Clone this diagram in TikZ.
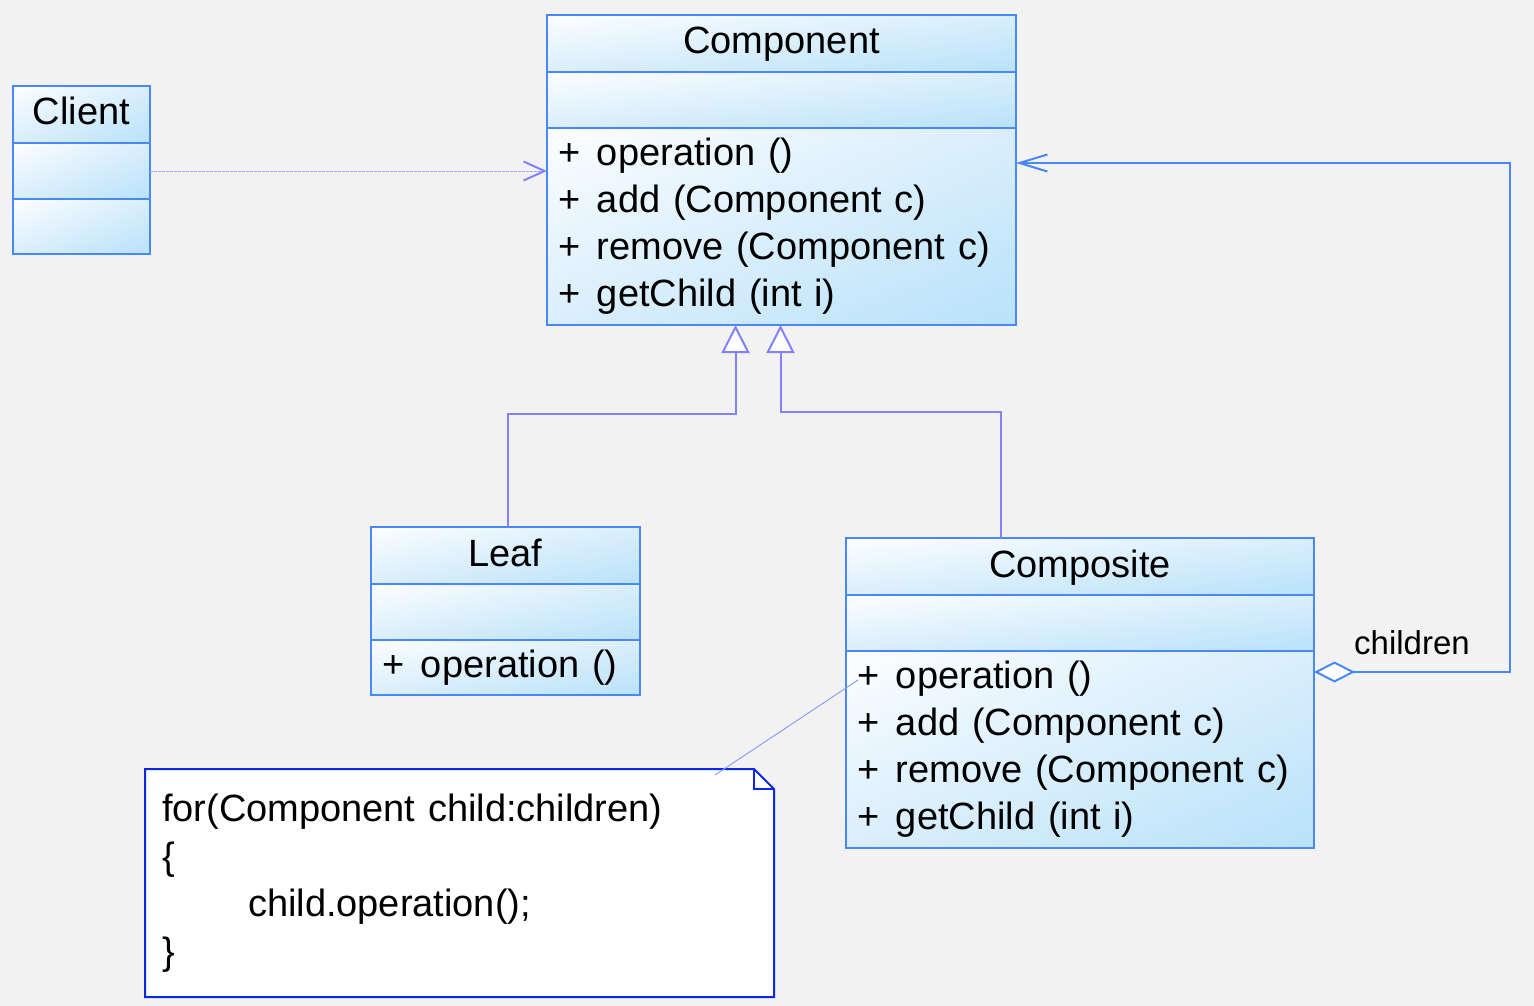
\documentclass[tikz,border=0pt]{standalone}
\usepackage{fontspec}
\setmainfont{Liberation Sans}
\usetikzlibrary{positioning,arrows.meta,shadings}
\definecolor{bggray}{RGB}{242,242,242}
\definecolor{classline}{RGB}{72,136,248}
\definecolor{classlight}{RGB}{252,254,255}
\definecolor{classmid}{RGB}{218,238,252}
\definecolor{classdark}{RGB}{184,226,250}
\definecolor{genline}{RGB}{130,130,255}
\definecolor{depline}{RGB}{160,160,255}
\definecolor{noteline}{RGB}{10,40,230}
\definecolor{linkline}{RGB}{140,160,255}

\pgfdeclarelayer{back}
\pgfsetlayers{back,main}

\newcommand{\op}[1]{\makebox[39pt][l]{+}#1}

\tikzset{
    compart/.style={rectangle, draw=classline, line width=2pt, outer sep=0pt,
        inner xsep=11pt, inner ysep=0pt, upper left=classlight, upper right=classmid,
        lower left=classmid, lower right=classdark, font=\fontsize{38}{47}\selectfont},
    classhead/.style={compart, anchor=north west, minimum width=#1, minimum height=57pt,
        text height=28pt, text depth=7pt},
    classops/.style={compart, text width=#1, align=left},
    notebox/.style={anchor=north west, outer sep=0pt, inner xsep=17pt, inner ysep=0pt,
        text width=595pt, minimum height=228pt, align=left, font=\fontsize{38}{47.5}\selectfont},
    noteshape/.style={draw=noteline, line width=2pt, fill=white},
    rolelabel/.style={inner sep=0pt, font=\fontsize{33}{40}\selectfont},
    dep/.style={draw=depline, line width=1pt, dash pattern=on 3pt off 1pt,
        -{Straight Barb[length=21pt,width=19pt,line width=2pt,color=genline]}},
    gen/.style={draw=genline, line width=2pt, -{Triangle[length=28pt,width=28pt,fill=white]}},
    aggr/.style={draw=classline, line width=2pt,
        {Diamond[length=41pt,width=21pt,fill=white]}-{Straight Barb[length=28pt,width=17pt]}},
    notelink/.style={draw=linkline, line width=1pt}
}

\begin{document}
\begin{tikzpicture}[x=1pt,y=-1pt]
    \useasboundingbox (0,0) rectangle (1534,1006);
    \begin{pgfonlayer}{back}
        \fill[bggray] (0,0) rectangle (1534,1006);
    \end{pgfonlayer}

    % classes
    \node[classhead=137pt] (client-head) at (13,86) {Client};
    \node[classhead=469pt] (comp-head) at (547,15) {Component};
    \node[classhead=269pt] (leaf-head) at (371,527) {Leaf};
    \node[classhead=468pt] (composite-head) at (846,538) {Composite};
    \foreach \c/\w in {client/137,comp/469,leaf/269,composite/468}{
        \node[compart, minimum width=\w pt, minimum height=56pt, below=0pt of \c-head] (\c-attr) {};
    }
    \node[classops=115pt, minimum height=55pt, below=0pt of client-attr] (client-ops) {};
    \node[classops=447pt, minimum height=197pt, below=0pt of comp-attr] (comp-ops)
        {\op{operation ()}\\\op{add (Component c)}\\\op{remove (Component c)}\\\op{getChild (int i)}};
    \node[classops=247pt, minimum height=55pt, below=0pt of leaf-attr] (leaf-ops) {\op{operation ()}};
    \node[classops=446pt, minimum height=197pt, below=0pt of composite-attr] (composite-ops)
        {\op{operation ()}\\\op{add (Component c)}\\\op{remove (Component c)}\\\op{getChild (int i)}};

    % note
    \node[notebox] (note) at (145,769)
        {for(Component child:children)\\\{\\\hspace*{86pt}child.operation();\\\}};
    \begin{pgfonlayer}{back}
        \draw[noteshape] (note.north west) -- ([xshift=-20pt]note.north east) -- ([yshift=-20pt]note.north east)
            -- (note.south east) -- (note.south west) -- cycle;
        \draw[noteshape, fill=none] ([xshift=-20pt]note.north east) |- ([yshift=-20pt]note.north east);
    \end{pgfonlayer}

    % relations
    \draw[dep] (client-attr.east) -- (client-attr.east -| comp-ops.west);
    \draw[gen] ([xshift=2pt]leaf-head.north) -- ++(0,-113) -| ([xshift=-46pt]comp-ops.south);
    \draw[gen] ([xshift=-79pt]composite-head.north) -- ++(0,-126) -| ([xshift=-1pt]comp-ops.south);
    \draw[aggr] ([yshift=-21pt]composite-ops.north east) -- ++(196,0) |- ([yshift=-35pt]comp-ops.north east);
    \node[rolelabel] (children-role) at (1412,643) {children};
    \draw[notelink] ([shift={(-59,6)}]note.north east) -- ([shift={(12,29)}]composite-ops.north west);
\end{tikzpicture}
\end{document}
